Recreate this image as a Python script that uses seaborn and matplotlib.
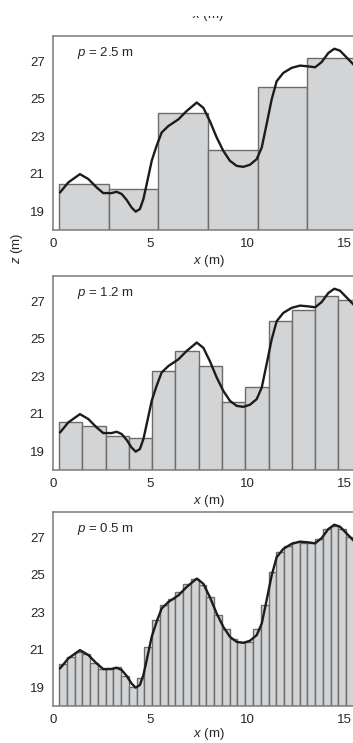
import pandas as pd
import matplotlib
matplotlib.use("Agg")
import matplotlib.pyplot as plt
import matplotlib.transforms as mtransforms
import seaborn as sns
import numpy as np

# Elevation profile (x in m, z in m)
curve_x = [0.36, 0.79, 1.39, 1.82, 2.25, 2.59, 3.02, 3.28, 3.54, 3.80, 4.05, 4.26,
           4.48, 4.66, 4.83, 5.09, 5.34, 5.60, 5.95, 6.46, 6.89, 7.41, 7.75, 8.09,
           8.44, 8.78, 9.12, 9.47, 9.81, 10.15, 10.50, 10.76, 11.01, 11.27, 11.53,
           11.87, 12.30, 12.73, 13.16, 13.51, 13.85, 14.19, 14.50, 14.79, 15.14,
           15.46, 16.0]
curve_z = [20.0, 20.54, 20.98, 20.72, 20.27, 19.97, 19.97, 20.04, 19.92, 19.6, 19.2,
           18.98, 19.12, 19.65, 20.45, 21.7, 22.49, 23.2, 23.55, 23.9, 24.35, 24.8,
           24.52, 23.8, 22.93, 22.22, 21.69, 21.42, 21.37, 21.48, 21.78, 22.4, 23.64,
           24.96, 25.94, 26.38, 26.65, 26.77, 26.73, 26.68, 26.96, 27.44, 27.67,
           27.57, 27.2, 26.86, 26.3]

# Block heights for each sampling interval
bars_p25 = [20.45, 20.2, 24.22, 22.27, 25.64, 27.19]
bars_p12 = [20.55, 20.33, 19.8, 19.72, 23.3, 24.35, 23.57, 21.62, 22.45, 25.97,
            26.55, 27.3, 27.05]
bars_p05 = [20.24, 20.63, 20.9, 20.77, 20.28, 19.96, 20.01, 20.1, 19.62, 19.03,
            19.48, 21.16, 22.61, 23.37, 23.69, 24.08, 24.52, 24.79, 24.43, 23.81,
            22.84, 22.13, 21.6, 21.42, 21.42, 22.13, 23.37, 25.14, 26.2, 26.56,
            26.73, 26.68, 26.68, 26.91, 27.44, 27.62, 27.44, 27.0]

panel_labels = ["$p$ = 2.5 m", "$p$ = 1.2 m", "$p$ = 0.5 m"]
bar_widths = [2.56, 1.2, 0.4]   # widths as drawn in the figure
bar_start = 0.31
x_ticks = [0, 5, 10, 15]
y_ticks = [19, 21, 23, 25, 27]

sns.set_style("white")
plt.rcParams["font.family"] = ["Liberation Sans", "DejaVu Sans"]
plt.rcParams["mathtext.fontset"] = "custom"
plt.rcParams["mathtext.rm"] = "Liberation Sans"
plt.rcParams["mathtext.it"] = "Liberation Sans:italic"

W, H = 353, 743
fig = plt.figure(figsize=(W / 100, H / 100), dpi=100)

# panel tops/bottoms in pixels
panel_px = [(36, 230), (276, 470), (512, 706)]
left_px = 53
xmax = 16.1
px_per_m = 19.4

text_col = "#262626"
spine_col = "#7a7a7a"

for i, (heights, width, label) in enumerate(zip([bars_p25, bars_p12, bars_p05], bar_widths, panel_labels)):
    top, bot = panel_px[i]
    ax = fig.add_axes([left_px / W, 1 - bot / H, xmax * px_per_m / W, (bot - top) / H])

    centers = [bar_start + width * (k + 0.5) for k in range(len(heights))]
    df = pd.DataFrame({"x": centers, "z": heights})
    sns.barplot(data=df, x="x", y="z", native_scale=True, width=1, ax=ax,
                color="#d3d4d6", saturation=1, edgecolor="#6c6c6c",
                linewidth=1.0, errorbar=None)

    sns.lineplot(x=curve_x, y=curve_z, ax=ax, color="#1c1c1c", linewidth=1.7)

    ax.set_xlim(0, xmax)
    ax.set_ylim(18, 28.35)
    ax.set_xticks(x_ticks)
    ax.set_xticklabels([str(t) for t in x_ticks])
    ax.set_yticks(y_ticks)
    ax.set_yticklabels([str(t) for t in y_ticks])
    ax.tick_params(length=0, labelsize=9.5, colors=text_col)
    ax.tick_params(axis="x", pad=6)
    ax.tick_params(axis="y", pad=6)
    ax.set_xlabel("$x$ (m)", fontsize=9.5, color=text_col,
                  labelpad=0 if i == 2 else 2)
    ax.set_ylabel("")
    for s in ax.spines.values():
        s.set_color(spine_col)
        s.set_linewidth(1.1)

    ax.text(0.077, 0.912, label, transform=ax.transAxes, ha="left", va="center",
            fontsize=9.5, color=text_col)

# shared y label
fig.text(17 / W, 1 - 248 / H, "$z$ (m)", rotation=90, ha="center", va="center",
         fontsize=9.5, color=text_col)

# remnant of the axis label from the panel above (cut by the crop)
t = fig.text(208 / W, 1 - 15 / H, "$x$ (m)", ha="center", va="center",
             fontsize=9.5, color=text_col)
clip = mtransforms.TransformedBbox(
    mtransforms.Bbox([[0, 0], [1, 1 - 16 / H]]), fig.transFigure)
t.set_clip_box(clip)
t.set_clip_on(True)

fig.savefig("out.png", dpi=100)
